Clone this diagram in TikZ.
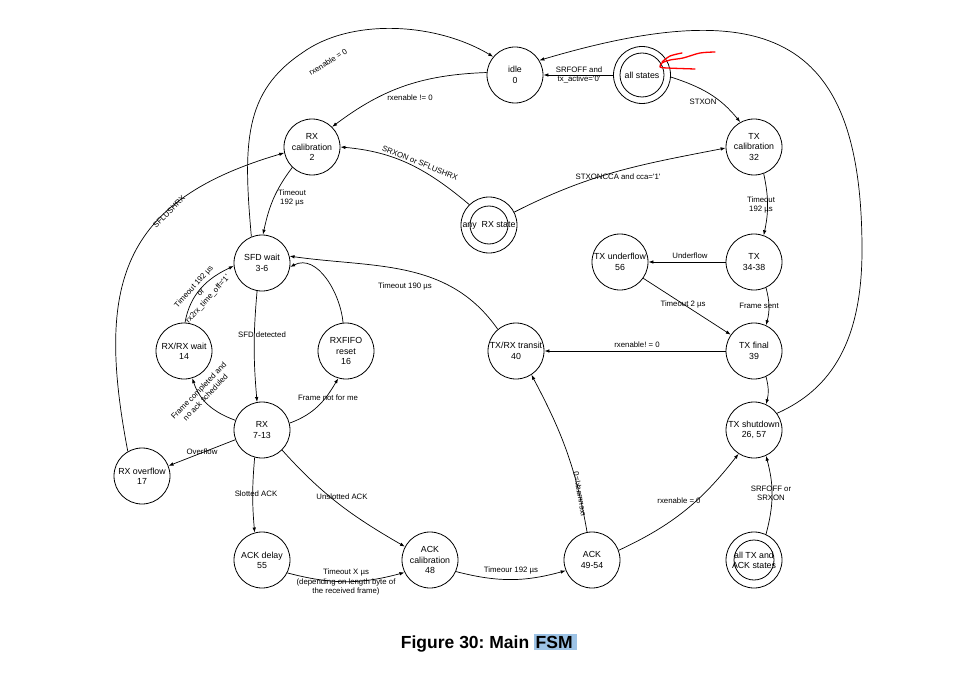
\documentclass[tikz,border=0pt]{standalone}
\usepackage{fontspec}
\setmainfont{Liberation Sans}
\usetikzlibrary{arrows.meta}
\definecolor{hl}{RGB}{157,195,230}
\newcommand{\sq}{\textquotesingle}
\frenchspacing
\begin{document}
\begin{tikzpicture}[x=1pt,y=-1pt,
  st/.style={circle, draw, line width=0.8pt, minimum size=56pt, inner sep=0pt, align=center, font=\fontsize{8.8}{10.3}\selectfont},
  dst/.style={st, path picture={\draw[line width=0.8pt] (path picture bounding box.center) circle[radius=#1];}},
  lbl/.style={inner sep=0pt, align=center, font=\fontsize{7.8}{9.3}\selectfont},
  arr/.style={line width=0.7pt, -{Latex[length=5pt,width=3.5pt]}}]
\useasboundingbox (0,0) rectangle (965,679);

% states
\node[st] (idle) at (515,75) {idle\\0};
\node[dst=22pt, minimum size=57pt] (all) at (642,75) {all states};
\node[st] (rxcal) at (312,147) {RX\\calibration\\2};
\node[st] (txcal) at (754,147) {TX\\calibration\\32};
\node[dst=19pt] (anyrx) at (489,225) {any\ \ RX state};
\node[st] (sfd) at (262,263) {SFD wait\\3-6};
\node[st] (txu) at (620,262) {TX underflow\\56};
\node[st] (tx) at (754,262) {TX\\34-38};
\node[st] (rxrx) at (184,351) {RX/RX wait\\14};
\node[st] (fifo) at (346,351) {RXFIFO\\reset\\16};
\node[st] (trans) at (516,351) {TX/RX transit\\40};
\node[st] (txf) at (754,351) {TX final\\39};
\node[st] (rx) at (262,430) {RX\\7-13};
\node[st] (txsd) at (754,430) {TX shutdown\\26, 57};
\node[st] (ovf) at (142,476) {RX overflow\\17};
\node[st] (ackd) at (262,560) {ACK delay\\55};
\node[st] (ackc) at (430,560) {ACK\\calibration\\48};
\node[st] (ack) at (592,560) {ACK\\49-54};
\node[dst=20pt] (alltx) at (754,560) {all TX and\\ACK states};

% transitions
\draw[arr] (all.west) -- (idle.east);
\draw[arr] (txsd.36) .. controls (832,389) and (862,340) .. (862,250) .. controls (862,40) and (773,-9) .. (idle.31);
\draw[arr] (idle.175) to[out=182, in=37] (rxcal.45);
\draw[arr] (sfd.112) .. controls (243,143) and (244,92) .. (302,53) .. controls (350,18) and (435,22) .. (idle.140);
\draw[arr] (rxcal.226) to[out=233, in=78] (sfd.88);
\draw[arr] (anyrx.134) to[out=140, in=-5] (rxcal.east);
\draw[arr] (anyrx.27) to[out=27, in=191] (txcal.182);
\draw[arr] (all.-4) to[out=-18, in=129] (txcal.119);
\draw[arr] (txcal.-70) to[bend left=12] (tx.70);
\draw[arr] (tx.west) -- (txu.east);
\draw[arr] (tx.-65) to[bend left=15] (txf.65);
\draw[arr] (txu.-35) -- (txf.145);
\draw[arr] (txf.west) -- (trans.east);
\draw[arr] (txf.-65) to[bend left=15] (txsd.65);
\draw[arr] (alltx.65) to[bend right=15] (txsd.-65);
\draw[arr] (trans.130) to[out=125, in=-8] (sfd.14);
\draw[arr] (ack.100) to[out=100, in=-62] (trans.-57);
\draw[arr] (ackc.-24) to[bend right=15] (ack.202);
\draw[arr] (ack.20) to[out=25, in=232] (txsd.237);
\draw[arr] (sfd.-100) to[bend right=5] (rx.100);
\draw[arr] (rx.160) to[out=160, in=-72] (rxrx.-73);
\draw[arr] (rxrx.88) to[out=80, in=205] (sfd.186);
\draw[arr] (fifo.96) to[out=95, in=27] (sfd.-8);
\draw[arr] (rx.14) to[out=20, in=-120] (fifo.-106);
\draw[arr] (rx.200) -- (ovf.21);
\draw[arr] (ovf.120) .. controls (96,285) and (120,201) .. (rxcal.192);
\draw[arr] (rx.-105) to[bend right=5] (ackd.105);
\draw[arr] (rx.-45) to[out=-48, in=150] (ackc.152);
\draw[arr] (ackd.-27) to[bend right=15] (ackc.206);

% labels
\node[lbl] (l1) at (579,75) {SRFOFF and\\tx\_active=\sq0\sq};
\node[lbl] (l2) at (410,98) {rxenable != 0};
\node[lbl, rotate=32] (l3) at (328,62) {rxenable = 0};
\node[lbl] (l4) at (292,198) {Timeout\\192 µs};
\node[lbl, rotate=-22] (l5) at (420,163) {SRXON or SFLUSHRX};
\node[lbl] (l6) at (618,177) {STXONCCA and cca=\sq1\sq};
\node[lbl] (l7) at (703,102) {STXON};
\node[lbl] (l8) at (761,205) {Timeout\\192 µs};
\node[lbl] (l9) at (690,256) {Underflow};
\node[lbl] (l10) at (759,306) {Frame sent};
\node[lbl] (l11) at (683,304) {Timeout 2 µs};
\node[lbl] (l12) at (637,345) {rxenable! = 0};
\node[lbl] (l13) at (405,286) {Timeout 190 µs};
\node[lbl, rotate=100, yscale=-1] (l14) at (580,494) {rxenmask!=0};
\node[lbl] (l15) at (511,570) {Timeour 192 µs};
\node[lbl] (l16) at (679,501) {rxenable = 0};
\node[lbl] (l17) at (771,493) {SRFOFF or\\SRXON};
\node[lbl] (l18) at (262,335) {SFD detected};
\node[lbl, rotate=46] (l19) at (202,394) {Frame completed and\\no ack scheduled};
\node[lbl, rotate=48] (l20) at (201,293) {Timeout 192 µs\\or\\rx2rx\_time\_off=\sq1\sq};
\node[lbl] (l21) at (328,398) {Frame not for me};
\node[lbl] (l22) at (202,452) {Overflow};
\node[lbl, rotate=45] (l23) at (169,212) {SFLUSHRX};
\node[lbl] (l24) at (256,494) {Slotted ACK};
\node[lbl] (l25) at (342,497) {Unslotted ACK};
\node[lbl] (l26) at (346,582) {Timeout X µs\\(depending on length byte of\\the received frame)};

% red scribble on "all states"
\draw[red, line width=1.3pt, line cap=round, line join=round]
  plot[smooth] coordinates {(715,52) (700,53) (683,58) (670,60) (662,63) (660,67) (667,68) (695,69)};
\draw[red, line width=1.3pt, line cap=round, line join=round]
  plot[smooth] coordinates {(682,53) (670,56) (662,62)};

% caption
\node[inner sep=0pt, font=\fontsize{17.5}{20}\selectfont\bfseries] (cap) at (489,643)
  {Figure 30: Main {\setlength{\fboxsep}{1.5pt}\colorbox{hl}{FSM\hspace{3pt}}}};
\end{tikzpicture}
\end{document}
